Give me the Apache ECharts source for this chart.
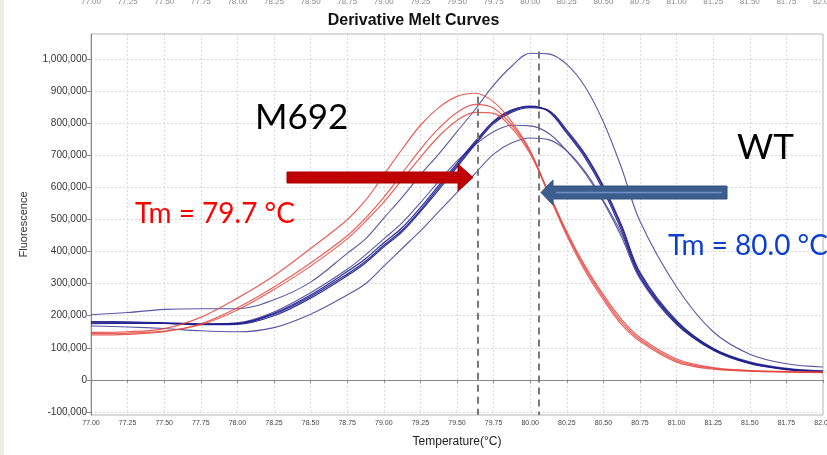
<!DOCTYPE html>
<html><head><meta charset="utf-8">
<script src="https://cdn.jsdelivr.net/npm/echarts@6/dist/echarts.min.js"></script>
<style>html,body{margin:0;padding:0;background:#fff}#c{width:827px;height:455px}</style>
</head><body><div id="c"></div>
<script>
// Temperatures (°C) shared by every curve
const temps = [77.0,77.25,77.5,77.75,78.0,78.25,78.5,78.75,78.875,79.0,79.125,79.25,79.375,79.5,79.625,79.75,79.875,80.0,80.125,80.25,80.375,80.5,80.625,80.75,81.0,81.25,81.5,81.75,82.0];
// -dF/dT values in thousands
// WT (blue)
const wt1 = [203,210,220,222,222,250,305,395,440,505,570,640,705,775,845,920,980,1020,1018,985,915,805,660,495,290,150,80,50,40];
const wt2 = [178,178,177,173,175,205,260,330,370,420,467,530,600,670,740,805,840,853,840,775,700,600,475,330,180,95,52,33,25];
const wt3 = [182,181,178,175,176,208,265,338,378,428,475,538,607,676,745,808,843,855,838,770,693,592,465,322,175,92,50,32,24];
const wt4 = [175,176,176,172,173,200,255,325,365,415,462,525,593,664,735,800,836,850,842,780,705,605,482,336,185,98,54,34,26];
const wt5 = [178,178,176,174,178,212,272,345,390,440,490,553,620,683,735,775,795,793,770,715,645,555,445,315,172,95,53,34,27];
const wt6 = [168,165,160,153,150,163,205,265,300,355,410,465,525,585,645,705,740,755,750,715,650,560,455,320,180,98,56,36,28];
// M692 (red)
const m1 = [148,150,160,195,255,325,410,500,560,640,720,795,850,885,895,868,805,715,580,450,340,250,172,120,55,33,27,24,22];
const m2 = [140,142,150,175,225,290,365,450,505,570,645,720,785,835,860,848,795,712,585,458,348,258,180,126,60,36,28,25,23];
const m3 = [145,146,152,172,218,282,355,440,495,555,625,695,760,810,835,832,785,705,585,462,355,265,188,132,65,38,29,26,24];
// Axis tick values
const yTicks = [-100000,0,100000,200000,300000,400000,500000,600000,700000,800000,900000,1000000];
// Tm marker lines: temperature and top of dashed line
const tmTemps = [79.64, 80.06];
const tmTops = [884000, 1025000];

const toPairs = arr => temps.map((t,i)=>[t, arr[i]*1000]);
const blueThin = '#4f4f9e', blueDark = '#1c1c8c', red = '#e5443e';
function line(name, arr, color, width, opacity, z){
  return {name, type:'line', data: toPairs(arr), smooth:0.35, symbol:'none', z,
    lineStyle:{color, width, opacity}, emphasis:{disabled:true}, silent:true};
}
const series = [
  line('WT1', wt1, blueThin, 1.1, 0.95, 2),
  line('WT5', wt5, blueThin, 1.1, 0.95, 2),
  line('WT6', wt6, blueThin, 1.1, 0.95, 2),
  line('WT2', wt2, blueDark, 1.2, 0.9, 3),
  line('WT3', wt3, blueDark, 1.2, 0.9, 3),
  line('WT4', wt4, blueDark, 1.2, 0.9, 3),
  line('M1', m1, red, 1.2, 0.85, 4),
  line('M2', m2, red, 1.2, 0.85, 4),
  line('M3', m3, red, 1.2, 0.85, 4)
];
series[0].markLine = {
  silent:true, symbol:'none', animation:false,
  lineStyle:{color:'#777', type:[7,5], width:2},
  label:{show:false},
  data: tmTemps.map((t,i)=>[{coord:[t, tmTops[i]]},{coord:[t,-110000]}])
};

const chart = echarts.init(document.getElementById('c'));
const axisFont = 'Liberation Sans, Arial, sans-serif';
chart.setOption({
  animation:false,
  backgroundColor:'#ffffff',
  title:{text:'Derivative Melt Curves', left:'center', top:8,
    textStyle:{fontSize:16, fontWeight:'bold', color:'#111', fontFamily:axisFont}},
  grid:{left:91, right:4, top:34, bottom:40, show:true, borderColor:'#b5b5b5', borderWidth:1,
    containLabel:false, outerBoundsMode:'none'},
  xAxis:[{
    type:'value', min:77, max:82, interval:0.25, position:'bottom',
    name:'Temperature(°C)', nameLocation:'middle', nameGap:21,
    nameTextStyle:{fontSize:12, color:'#222', fontFamily:axisFont},
    axisLine:{show:true, lineStyle:{color:'#8a8a8a'}},
    axisTick:{show:true, length:3, lineStyle:{color:'#8a8a8a'}},
    axisLabel:{fontSize:7, color:'#444', margin:5, fontFamily:axisFont, interval:0, hideOverlap:false, formatter:v=>v.toFixed(2)},
    splitLine:{show:true, lineStyle:{color:'#d9d9d9', type:[2,2]}}
  },{
    type:'value', min:77, max:82, interval:0.25, position:'top', offset:28,
    axisLine:{show:false}, axisTick:{show:false}, splitLine:{show:false},
    axisLabel:{fontSize:8, color:'#888', margin:0, fontFamily:axisFont, interval:0, hideOverlap:false, formatter:v=>v.toFixed(2)}
  }],
  yAxis:{
    type:'value', min:-110000, max:1080000,
    name:'Fluorescence', nameLocation:'middle', nameGap:62, nameRotate:90,
    nameTextStyle:{fontSize:11, color:'#333', fontFamily:axisFont},
    axisLine:{show:true, lineStyle:{color:'#8a8a8a'}},
    axisTick:{show:true, length:4, customValues:yTicks, lineStyle:{color:'#8a8a8a'}},
    axisLabel:{fontSize:10, color:'#333', margin:4, fontFamily:axisFont, customValues:yTicks,
      formatter:v=> v.toLocaleString('en-US')},
    splitLine:{show:true, lineStyle:{color:'#d9d9d9', type:[2,2]}}
  },
  series,
  graphic:[
    {type:'rect', shape:{x:0,y:0,width:4,height:455}, style:{fill:'#efede4'}, silent:true},
    {type:'text', left:255, top:100, style:{text:'M692', font:'35px Lato, sans-serif', fill:'#000'}, silent:true, z:10},
    {type:'text', left:737, top:130, style:{text:'WT', font:'35px Lato, sans-serif', fill:'#000'}, silent:true, z:10},
    {type:'text', left:135, top:200, style:{text:'Tm = 79.7 °C', font:'28px Lato, sans-serif', fill:'#ff0000'}, silent:true, z:10},
    {type:'text', left:668, top:232, style:{text:'Tm = 80.0 °C', font:'28px Lato, sans-serif', fill:'#0b3fd0'}, silent:true, z:10},
    {type:'polygon', shape:{points:[[287,172],[458,172],[458,164],[473,177.5],[458,191],[458,183],[287,183]]},
      style:{fill:'#c00000', stroke:'#a80000', lineWidth:1}, silent:true, z:10},
    {type:'polygon', shape:{points:[[727,186],[553,186],[553,180],[541,192.5],[553,205],[553,199],[727,199]]},
      style:{fill:'#3c5e8e', stroke:'#34527e', lineWidth:1}, silent:true, z:10},
    {type:'line', shape:{x1:556,y1:192.5,x2:722,y2:192.5}, style:{stroke:'#6f93c8', lineWidth:1.5}, silent:true, z:11}
  ]
});
</script></body></html>
